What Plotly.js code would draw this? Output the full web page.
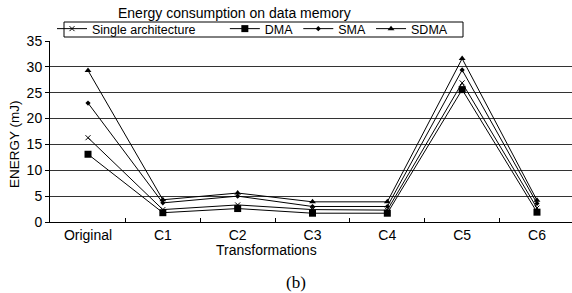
<!DOCTYPE html>
<html><head><meta charset="utf-8">
<script src="https://cdn.plot.ly/plotly-3.0.1.min.js"></script>
<style>html,body{margin:0;padding:0;background:#fff}</style>
</head><body>
<div id="chart" style="width:572px;height:293px"></div>
<script>
const categories = ["Original","C1","C2","C3","C4","C5","C6"];
const seriesNames = ["Single architecture","DMA","SMA","SDMA"];
const singleArch = [16.3, 2.4, 3.3, 2.4, 2.3, 26.9, 2.7];
const dma        = [13.1, 1.8, 2.6, 1.7, 1.7, 25.6, 1.9];
const sma        = [23.0, 3.7, 5.0, 3.0, 3.0, 29.4, 3.6];
const sdma       = [29.3, 4.3, 5.6, 3.9, 3.9, 31.6, 4.2];

const W = 572, H = 293, L = 50, T = 41, PW = 522, PH = 181;
const px = x => (x - L) / PW;
const py = y => (T + PH - y) / PH;

const base = {type:'scatter', mode:'lines+markers', x:categories, line:{color:'#000', width:1}};
const traces = [
  Object.assign({}, base, {name:seriesNames[0] + '\u00A0'.repeat(7), y:singleArch, marker:{symbol:'x-thin', size:5, color:'#000', line:{color:'#000', width:1}}}),
  Object.assign({}, base, {name:seriesNames[1], y:dma, marker:{symbol:'square', size:7, color:'#000'}}),
  Object.assign({}, base, {name:seriesNames[2], y:sma, marker:{symbol:'diamond', size:4, color:'#000'}}),
  Object.assign({}, base, {name:seriesNames[3], y:sdma, marker:{symbol:'triangle-up', size:6, color:'#000'}})
];

const font = {family:'"Liberation Sans", Arial, sans-serif', color:'#000'};
const layout = {
  width:W, height:H,
  margin:{l:L, r:W - L - PW, t:T, b:H - T - PH, pad:0},
  paper_bgcolor:'#fff', plot_bgcolor:'#fff',
  font:Object.assign({}, font, {size:14}),
  showlegend:true,
  legend:{orientation:'h', x:px(52), y:py(14), xanchor:'left', yanchor:'top',
          bgcolor:'rgba(0,0,0,0)', borderwidth:0, font:Object.assign({}, font, {size:12.5}),
          itemwidth:30, tracegroupgap:0},
  xaxis:{type:'category', range:[-0.508, 6.468], showgrid:false, zeroline:false,
         showline:true, linecolor:'#000', linewidth:1, ticks:'inside', ticklen:4,
         tickson:'boundaries', tickcolor:'#000', tickfont:Object.assign({}, font, {size:14}),
         fixedrange:true},
  yaxis:{range:[0,35], dtick:5, showgrid:true, gridcolor:'#333', gridwidth:1, zeroline:false,
         showline:true, linecolor:'#000', linewidth:1, ticks:'outside', ticklen:4,
         tickcolor:'#000', tickfont:Object.assign({}, font, {size:14}), fixedrange:true},
  shapes:[
    {type:'rect', xref:'paper', yref:'paper', x0:px(64), x1:px(463), y0:py(37), y1:py(22),
     line:{color:'#000', width:1}, fillcolor:'rgba(0,0,0,0)'}
  ],
  annotations:[
    {text:'Energy consumption on data memory', xref:'paper', yref:'paper', x:px(234), y:py(13),
     xanchor:'center', yanchor:'middle', showarrow:false, font:Object.assign({}, font, {size:14})},
    {text:'ENERGY (mJ)', xref:'paper', yref:'paper', x:px(14), y:py(144), textangle:-90,
     xanchor:'center', yanchor:'middle', showarrow:false, font:Object.assign({}, font, {size:13.5})},
    {text:'Transformations', xref:'paper', yref:'paper', x:px(266), y:py(250),
     xanchor:'center', yanchor:'middle', showarrow:false, font:Object.assign({}, font, {size:14})},
    {text:'(b)', xref:'paper', yref:'paper', x:px(296), y:py(282),
     xanchor:'center', yanchor:'middle', showarrow:false, font:{family:'"Liberation Serif", "Times New Roman", serif', size:17, color:'#000'}}
  ]
};
Plotly.newPlot('chart', traces, layout, {staticPlot:true, displayModeBar:false});
</script>
</body></html>
